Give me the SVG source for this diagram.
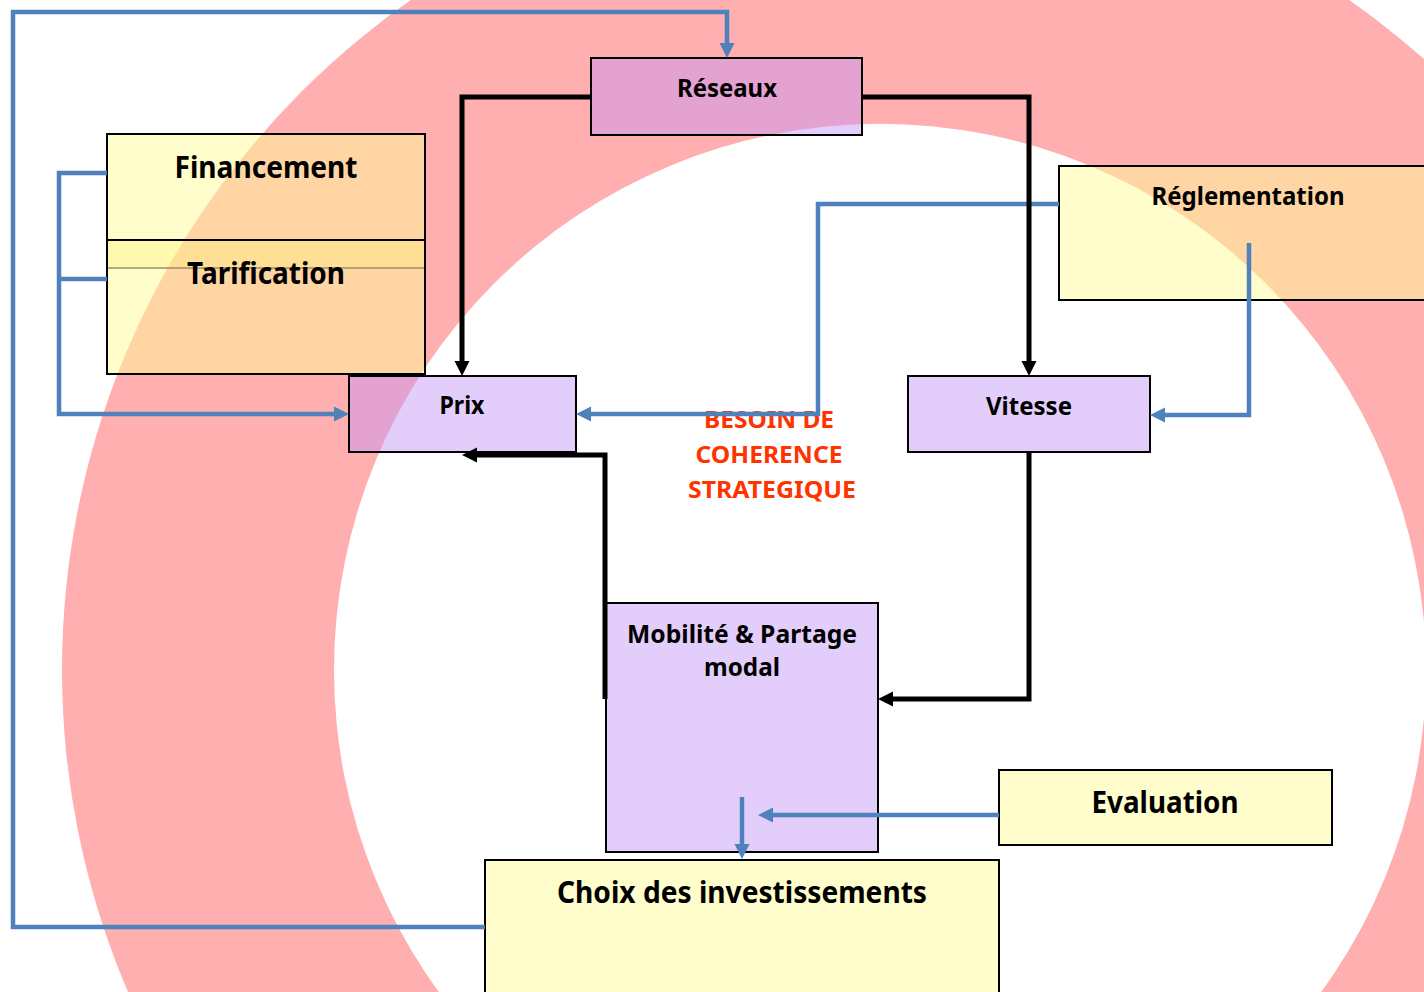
<svg xmlns="http://www.w3.org/2000/svg" width="1424" height="992" viewBox="0 0 1424 992">
<style>
.box{stroke:#000;stroke-width:2}
.pur{fill:#C495F5;fill-opacity:0.47}
.yel{fill:#FFFB98;fill-opacity:0.5}
.t{font-family:"Noto Sans","Open Sans","Liberation Sans",sans-serif;font-weight:700;fill:#000;text-anchor:middle}
.big{font-size:30px}
.sm{font-size:25.5px}
.red{font-family:"Noto Sans","Open Sans","Liberation Sans",sans-serif;font-weight:700;fill:#FF3300;font-size:23.5px;text-anchor:middle}
.bl{fill:none;stroke:#4F81BD;stroke-width:4.5;stroke-linejoin:miter;marker-end:url(#ab)}
.bln{fill:none;stroke:#4F81BD;stroke-width:4.5;stroke-linejoin:miter}
.bk{fill:none;stroke:#000;stroke-width:5;stroke-linejoin:miter;marker-end:url(#ak)}
</style>
<defs>
<marker id="ab" markerUnits="userSpaceOnUse" markerWidth="16" markerHeight="16" refX="0" refY="7.5" orient="auto" overflow="visible">
<path d="M0,0 L15,7.5 L0,15 z" fill="#4F81BD"/>
</marker>
<marker id="ak" markerUnits="userSpaceOnUse" markerWidth="16" markerHeight="16" refX="0" refY="7.5" orient="auto" overflow="visible">
<path d="M0,0 L15,7.5 L0,15 z" fill="#000"/>
</marker>
</defs>
<rect x="0" y="0" width="1424" height="992" fill="#fff"/>
<path id="ring" fill="#FFAFAF" fill-rule="evenodd" d="M62,670 a818,818 0 1,0 1636,0 a818,818 0 1,0 -1636,0 z M334,670 a546,546 0 1,0 1092,0 a546,546 0 1,0 -1092,0 z"/>
<g id="label-coherence">
<text class="red" x="769" y="428" textLength="130" lengthAdjust="spacingAndGlyphs">BESOIN DE</text>
<text class="red" x="769" y="463" textLength="147" lengthAdjust="spacingAndGlyphs">COHERENCE</text>
<text class="red" x="772" y="498" textLength="168" lengthAdjust="spacingAndGlyphs">STRATEGIQUE</text>
</g>
<g id="financement">
<rect class="box yel" x="107" y="134" width="318" height="106"/>
<text class="t big" x="266" y="178" textLength="183" lengthAdjust="spacingAndGlyphs">Financement</text>
</g>
<g id="tarification">
<rect class="box yel" x="107" y="240" width="318" height="134"/>
<rect x="108" y="241" width="316" height="27" fill="#FFF07A" fill-opacity="0.35"/>
<line x1="108" y1="268" x2="424" y2="268" stroke="#9A9060" stroke-width="1.5"/>
<text class="t big" x="266" y="284" textLength="158" lengthAdjust="spacingAndGlyphs">Tarification</text>
</g>
<g id="reseaux">
<rect class="box pur" x="591" y="58" width="271" height="77"/>
<text class="t sm" x="727" y="97" textLength="100" lengthAdjust="spacingAndGlyphs">Réseaux</text>
</g>
<g id="reglementation">
<rect class="box yel" x="1059" y="166" width="380" height="134"/>
<text class="t sm" x="1248" y="205" textLength="193" lengthAdjust="spacingAndGlyphs">Réglementation</text>
</g>
<g id="prix">
<rect class="box pur" x="349" y="376" width="227" height="76"/>
<text class="t sm" x="462" y="414" textLength="45" lengthAdjust="spacingAndGlyphs">Prix</text>
</g>
<g id="vitesse">
<rect class="box pur" x="908" y="376" width="242" height="76"/>
<text class="t sm" x="1029" y="415" textLength="86" lengthAdjust="spacingAndGlyphs">Vitesse</text>
</g>
<g id="mobilite">
<rect class="box pur" x="606" y="603" width="272" height="249"/>
<text class="t sm" x="742" y="643" textLength="230" lengthAdjust="spacingAndGlyphs">Mobilité &amp; Partage</text>
<text class="t sm" x="742" y="676" textLength="76" lengthAdjust="spacingAndGlyphs">modal</text>
</g>
<g id="evaluation">
<rect class="box yel" x="999" y="770" width="333" height="75"/>
<text class="t big" x="1165" y="813" textLength="147" lengthAdjust="spacingAndGlyphs">Evaluation</text>
</g>
<g id="choix">
<rect class="box yel" x="485" y="860" width="514" height="150"/>
<text class="t big" x="742" y="903" textLength="370" lengthAdjust="spacingAndGlyphs">Choix des investissements</text>
</g>
<g id="connectors">
<path class="bl" d="M485,927 H13 V12 H727 V43"/>
<path class="bln" d="M107,279 H59"/>
<path class="bl" d="M107,173 H59 V414 H334"/>
<path class="bl" d="M1059,204 H818 V414 H591"/>
<path class="bl" d="M1249,243 V415 H1165"/>
<path class="bk" d="M591,97 H462 V361"/>
<path class="bk" d="M862,97 H1029 V361"/>
<path class="bk" d="M605,699 V455 H477"/>
<path class="bk" d="M1029,452 V699 H893"/>
<path class="bl" d="M999,815 H773"/>
<path class="bl" d="M742,797 V844"/>
</g>
</svg>
